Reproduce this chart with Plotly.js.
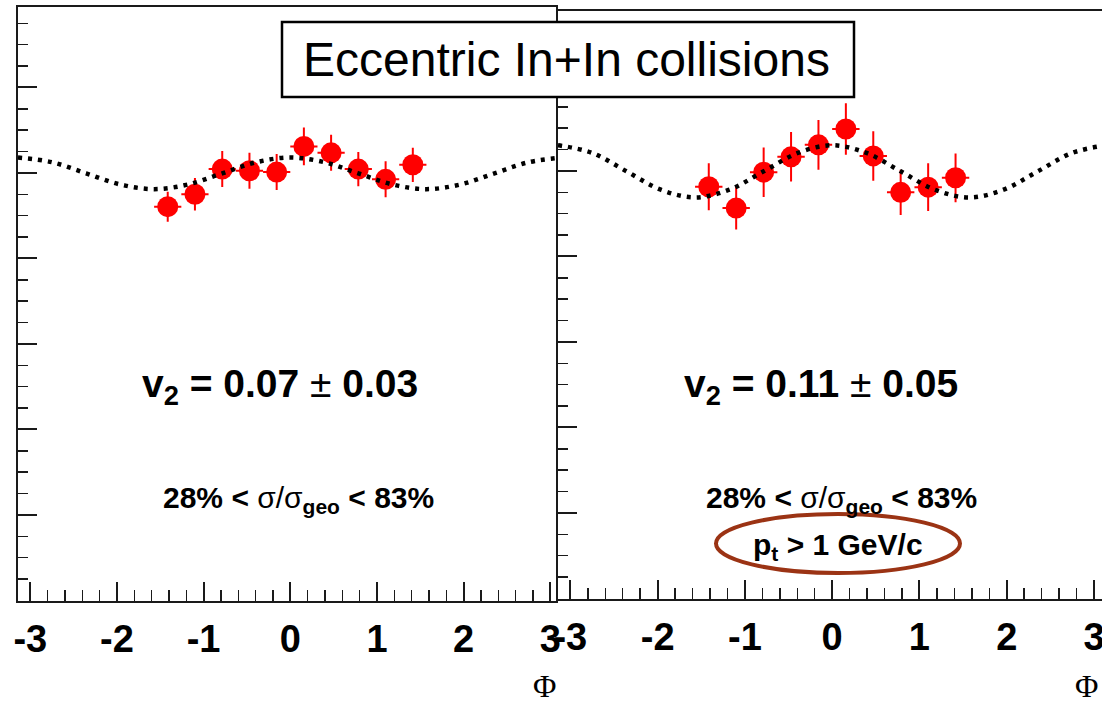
<!DOCTYPE html>
<html>
<head>
<meta charset="utf-8">
<script src="https://cdn.plot.ly/plotly-3.0.1.min.js"></script>
<style>html,body{margin:0;padding:0;background:#fff;}#chart{width:1102px;height:706px;}</style>
</head>
<body>
<div id="chart"></div>
<script>
// ---- data ----
const binCenters = [-1.414, -1.100, -0.785, -0.471, -0.157, 0.157, 0.471, 0.785, 1.100, 1.414];
const binHalfWidth = 0.157;

const leftValues = [0.921, 0.950, 1.009, 1.005, 1.002, 1.062, 1.047, 1.009, 0.985, 1.019];
const leftErrors = [0.035, 0.038, 0.042, 0.042, 0.042, 0.044, 0.042, 0.040, 0.042, 0.040];

const rightValues = [0.963, 0.913, 0.997, 1.033, 1.061, 1.098, 1.035, 0.950, 0.962, 0.984];
const rightErrors = [0.055, 0.050, 0.058, 0.058, 0.058, 0.060, 0.058, 0.053, 0.056, 0.057];

const curvePhi = [-3.142, -2.749, -2.356, -1.963, -1.571, -1.178, -0.785, -0.393, 0,
                  0.393, 0.785, 1.178, 1.571, 1.963, 2.356, 2.749, 3.142];
const leftCurve = [1.036, 1.025, 0.999, 0.973, 0.962, 0.973, 0.999, 1.025, 1.036,
                   1.025, 0.999, 0.973, 0.962, 0.973, 0.999, 1.025, 1.036];
const rightCurve = [1.060, 1.042, 0.999, 0.956, 0.938, 0.956, 0.999, 1.042, 1.060,
                    1.042, 0.999, 0.956, 0.938, 0.956, 0.999, 1.042, 1.060];

const tickVals = [-3, -2, -1, 0, 1, 2, 3];
const tickText = ['-3', '-2', '-1', '0', '1', '2', '3'];

const titleText = 'Eccentric In+In collisions';
const leftV2Text = '<b>v<sub>2</sub> = 0.07</b> <span style="font-weight:normal">±</span> <b>0.03</b>';
const rightV2Text = '<b>v<sub>2</sub> = 0.11</b> <span style="font-weight:normal">±</span> <b>0.05</b>';
const centText = '<b>28% &lt; </b><span style="font-weight:normal">σ/σ</span><sub><b>geo</b></sub><b> &lt; 83%</b>';
const ptText = '<b>p<sub>t</sub> &gt; 1 GeV/c</b>';
const axisLabel = 'Φ';

// ---- layout helpers ----
const W = 1102, H = 706;
const px = x => x / W;
const py = y => 1 - y / H;
const RED = '#ff0000';
const AX = '#1a1a1a';

function pointsTrace(y, err, xa, ya) {
  return {
    x: binCenters, y: y, xaxis: xa, yaxis: ya, type: 'scatter', mode: 'markers',
    marker: {color: RED, size: 21, symbol: 'circle'},
    error_y: {type: 'data', array: err, visible: true, color: RED, thickness: 2, width: 0},
    error_x: {type: 'constant', value: binHalfWidth, visible: true, color: RED, thickness: 2, width: 0},
    showlegend: false, hoverinfo: 'skip'
  };
}
function curveTrace(y, xa, ya) {
  return {
    x: curvePhi, y: y, xaxis: xa, yaxis: ya, type: 'scatter', mode: 'lines',
    line: {color: '#000', width: 4.5, dash: '4px,6px', shape: 'spline'},
    showlegend: false, hoverinfo: 'skip'
  };
}

const data = [
  pointsTrace(leftValues, leftErrors, 'x', 'y'),
  curveTrace(leftCurve, 'x', 'y'),
  pointsTrace(rightValues, rightErrors, 'x2', 'y2'),
  curveTrace(rightCurve, 'x2', 'y2')
];

function xAxis(domain, range, anchor) {
  return {
    domain: domain, range: range, anchor: anchor,
    showline: true, mirror: true, linecolor: AX, linewidth: 2,
    showgrid: false, zeroline: false,
    ticks: 'inside', ticklen: 19, tickwidth: 2, tickcolor: AX,
    tickmode: 'array', tickvals: tickVals, ticktext: tickText,
    tickfont: {family: 'Liberation Sans, Arial, sans-serif', size: 38, color: '#000', weight: 'bold'},
    ticklabelstandoff: 4,
    ticklabeloverflow: 'allow',
    minor: {dtick: 0.2, tick0: 0, ticks: 'inside', ticklen: 11, tickwidth: 1.5, tickcolor: AX, showgrid: false},
    fixedrange: true
  };
}
function yAxis(domain, range, anchor, mirror) {
  return {
    domain: domain, range: range, anchor: anchor,
    showline: true, mirror: mirror, linecolor: AX, linewidth: 2,
    showgrid: false, zeroline: false, showticklabels: false,
    ticks: 'inside', ticklen: 19, tickwidth: 2, tickcolor: AX,
    tickmode: 'linear', tick0: 0, dtick: 0.2,
    minor: {dtick: 0.05, tick0: 0, ticks: 'inside', ticklen: 10, tickwidth: 1.5, tickcolor: AX, showgrid: false},
    fixedrange: true
  };
}

const textFont = {family: 'Liberation Sans, Arial, sans-serif', color: '#000'};
function ann(text, x, y, size, extra) {
  return Object.assign({
    text: text, xref: 'paper', yref: 'paper', x: px(x), y: py(y),
    xanchor: 'center', yanchor: 'middle', showarrow: false,
    font: Object.assign({}, textFont, {size: size})
  }, extra || {});
}
const serif = {family: 'Liberation Serif, Times New Roman, serif', size: 32, color: '#000'};

const layout = {
  width: W, height: H, autosize: false,
  margin: {l: 0, r: 0, t: 0, b: 0, pad: 0},
  paper_bgcolor: '#fff', plot_bgcolor: '#fff',
  showlegend: false,
  xaxis: xAxis([px(18), px(556)], [-3.1416, 3.066], 'y'),
  yaxis: yAxis([py(600.5), py(7)], [0, 1.388], 'x', true),
  xaxis2: xAxis([px(558), 1], [-3.1416, 3.092], 'y2'),
  yaxis2: yAxis([py(598.5), py(11)], [0, 1.374], 'x2', false),
  shapes: [
    {type: 'rect', xref: 'paper', yref: 'paper', x0: px(282), x1: px(854), y0: py(97), y1: py(22),
     line: {color: '#000', width: 2.5}, fillcolor: '#fff', layer: 'above'},
    {type: 'circle', xref: 'paper', yref: 'paper', x0: px(716), x1: px(960), y0: py(573), y1: py(514),
     line: {color: '#9b3314', width: 4}, fillcolor: 'rgba(0,0,0,0)', layer: 'above'}
  ],
  annotations: [
    ann(titleText, 566, 60, 48),
    ann(leftV2Text, 280, 386, 39),
    ann(centText, 299, 500, 30),
    ann(rightV2Text, 821, 386, 39),
    ann(centText, 841, 500, 30),
    ann(ptText, 838, 546, 30),
    ann(axisLabel, 544, 686, 32, {font: serif}),
    ann(axisLabel, 1086, 686, 32, {font: serif})
  ]
};

Plotly.newPlot('chart', data, layout, {staticPlot: true, displayModeBar: false});
</script>
</body>
</html>
